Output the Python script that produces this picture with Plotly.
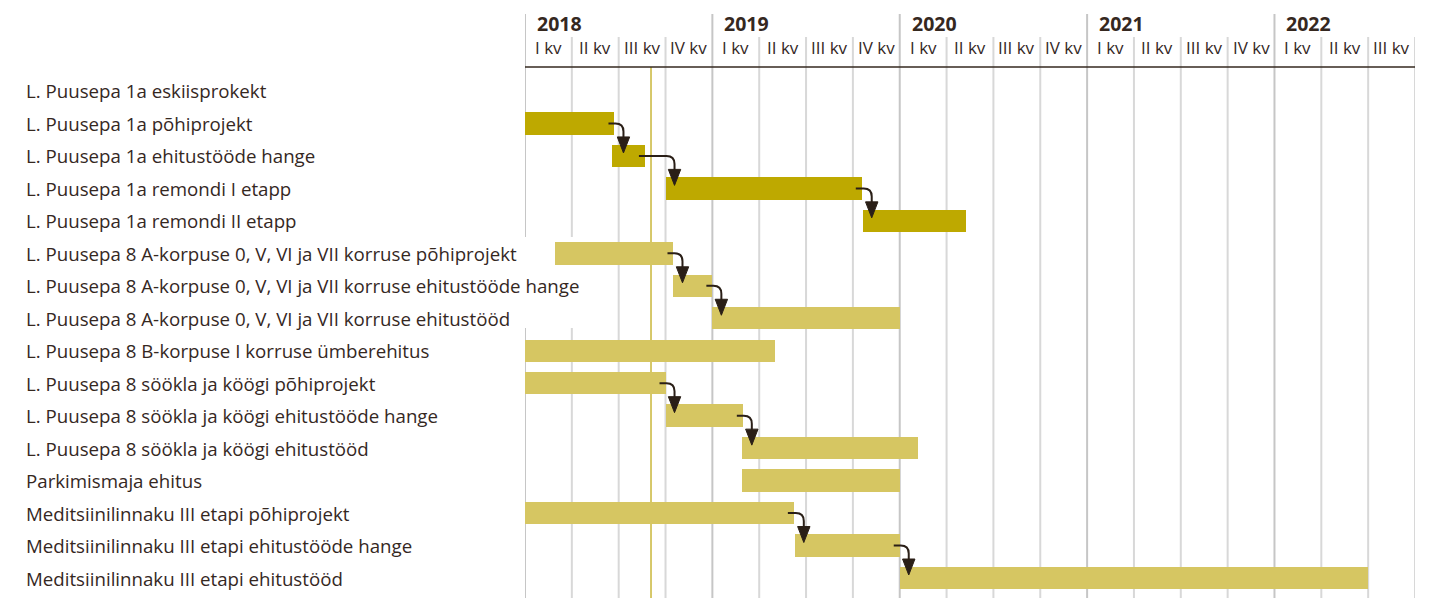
import plotly.graph_objects as go

# ---------------- data ----------------
tasks = [
    "L. Puusepa 1a eskiisprokekt",
    "L. Puusepa 1a põhiprojekt",
    "L. Puusepa 1a ehitustööde hange",
    "L. Puusepa 1a remondi I etapp",
    "L. Puusepa 1a remondi II etapp",
    "L. Puusepa 8 A-korpuse 0, V, VI ja VII korruse põhiprojekt",
    "L. Puusepa 8 A-korpuse 0, V, VI ja VII korruse ehitustööde hange",
    "L. Puusepa 8 A-korpuse 0, V, VI ja VII korruse ehitustööd",
    "L. Puusepa 8 B-korpuse I korruse ümberehitus",
    "L. Puusepa 8 söökla ja köögi põhiprojekt",
    "L. Puusepa 8 söökla ja köögi ehitustööde hange",
    "L. Puusepa 8 söökla ja köögi ehitustööd",
    "Parkimismaja ehitus",
    "Meditsiinilinnaku III etapi põhiprojekt",
    "Meditsiinilinnaku III etapi ehitustööde hange",
    "Meditsiinilinnaku III etapi ehitustööd",
]
# start / end in quarters counted from 1 Jan 2018
start_q = [None, 0.00, 1.85, 3.00, 7.21, 0.63, 3.15, 4.00, 0.00, 0.00, 3.00, 4.63, 4.63, 0.00, 5.76, 8.00]
end_q   = [None, 1.91, 2.56, 7.19, 9.41, 3.17, 4.00, 8.01, 5.33, 3.00, 4.65, 8.38, 8.00, 5.74, 8.00, 18.00]
group   = ["dark"] * 5 + ["light"] * 11
dependencies = [(1, 2), (2, 3), (3, 4), (5, 6), (6, 7), (9, 10), (10, 11), (13, 14), (14, 15)]

years = ["2018", "2019", "2020", "2021", "2022"]
quarter_labels = ["I kv", "II kv", "III kv", "IV kv"]
n_quarters = 19
today_q = 2.69

# ---------------- styles ----------------
OFF = 8  # page body margin
W, H = 1430 - OFF, 598 - OFF
ML, MR, MT, MB = 525 - OFF, 15, 67 - OFF, 0
TEXT = "#35281f"
ARROW = "#2a1f17"
COLORS = {"dark": "#BEA900", "light": "#D6C662"}
FONT = "'Open Sans', Lato, sans-serif"

y_top, y_bot = -0.739, 15.616
plot_w = W - ML - MR
plot_h = H - MT - MB
ppq = plot_w / n_quarters          # px per quarter
ppr = plot_h / (y_bot - y_top)     # px per row
HEAD_PX = MT + OFF                 # header height above plot in page px

fig = go.Figure()

rows = [i for i in range(len(tasks)) if start_q[i] is not None]
fig.add_trace(go.Bar(
    orientation="h",
    y=rows,
    x=[end_q[i] - start_q[i] for i in rows],
    base=[start_q[i] for i in rows],
    marker=dict(color=[COLORS[group[i]] for i in rows], line=dict(width=0)),
    width=0.69,
    hoverinfo="skip",
))

shapes = []
# grid lines
for q in range(n_quarters + 1):
    is_year = q % 4 == 0 and q < n_quarters
    shapes.append(dict(
        type="line", xref="x", yref="paper", x0=q, x1=q, y0=0,
        y1=1 + ((HEAD_PX - 14) if is_year else (HEAD_PX - 37)) / plot_h,
        line=dict(color="#C6C6C6" if is_year else "#D8D8D8", width=2),
        layer="below",
    ))
# white box behind the long label
shapes.append(dict(type="rect", xref="paper", yref="y",
                   x0=-0.03, x1=75 / plot_w, y0=4.5, y1=7.3,
                   fillcolor="white", line=dict(width=0), layer="below"))
# header baseline
shapes.append(dict(type="line", xref="paper", yref="paper", x0=0, x1=1, y0=1, y1=1,
                   line=dict(color=TEXT, width=1.5)))
# today line
shapes.append(dict(type="line", xref="x", yref="paper", x0=today_q, x1=today_q, y0=0, y1=1,
                   line=dict(color="#C9B73A", width=1.5), layer="below"))

# dependency arrows
r_px = 8
for a, b in dependencies:
    xa0 = end_q[a] - 6 / ppq
    xv = max(end_q[a], start_q[b]) + 9 / ppq
    ya = a
    tip = b - 3 / ppr
    head_top = tip - 16 / ppr
    path = (f"M {xa0},{ya} L {xv - r_px / ppq},{ya} "
            f"Q {xv},{ya} {xv},{ya + r_px / ppr} L {xv},{head_top + 1 / ppr}")
    shapes.append(dict(type="path", xref="x", yref="y", path=path,
                       line=dict(color=ARROW, width=2)))
    head = (f"M {xv - 6.2 / ppq},{head_top} L {xv + 6.2 / ppq},{head_top} L {xv},{tip} Z")
    shapes.append(dict(type="path", xref="x", yref="y", path=head,
                       fillcolor=ARROW, line=dict(color=ARROW, width=1)))

annotations = []
for i, t in enumerate(tasks):
    annotations.append(dict(text=t, xref="paper", yref="y", x=(24 - 525) / plot_w, y=i,
                            xanchor="left", yanchor="middle", showarrow=False,
                            font=dict(family=FONT, size=18.7, color=TEXT)))
for k, yr in enumerate(years):
    annotations.append(dict(text=f"<b>{yr}</b>", xref="x", yref="paper",
                            x=4 * k + 10 / ppq, y=1 + (HEAD_PX - 23) / plot_h,
                            xanchor="left", yanchor="middle", showarrow=False,
                            font=dict(family=FONT, size=19.5, color=TEXT)))
for q in range(n_quarters):
    annotations.append(dict(text=quarter_labels[q % 4], xref="x", yref="paper",
                            x=q + 0.5, y=1 + (HEAD_PX - 47) / plot_h,
                            xanchor="center", yanchor="middle", showarrow=False,
                            font=dict(family=FONT, size=17, color=TEXT)))

fig.update_layout(
    width=W, height=H,
    margin=dict(l=ML, r=MR, t=MT, b=MB, pad=0),
    paper_bgcolor="white", plot_bgcolor="rgba(0,0,0,0)",
    showlegend=False, bargap=0,
    xaxis=dict(range=[0, n_quarters], showgrid=False, zeroline=False, showticklabels=False,
               ticks="", fixedrange=True),
    yaxis=dict(range=[y_bot, y_top], showgrid=False, zeroline=False, showticklabels=False,
               ticks="", fixedrange=True),
    shapes=shapes, annotations=annotations,
)

fig.write_html("out.html")
